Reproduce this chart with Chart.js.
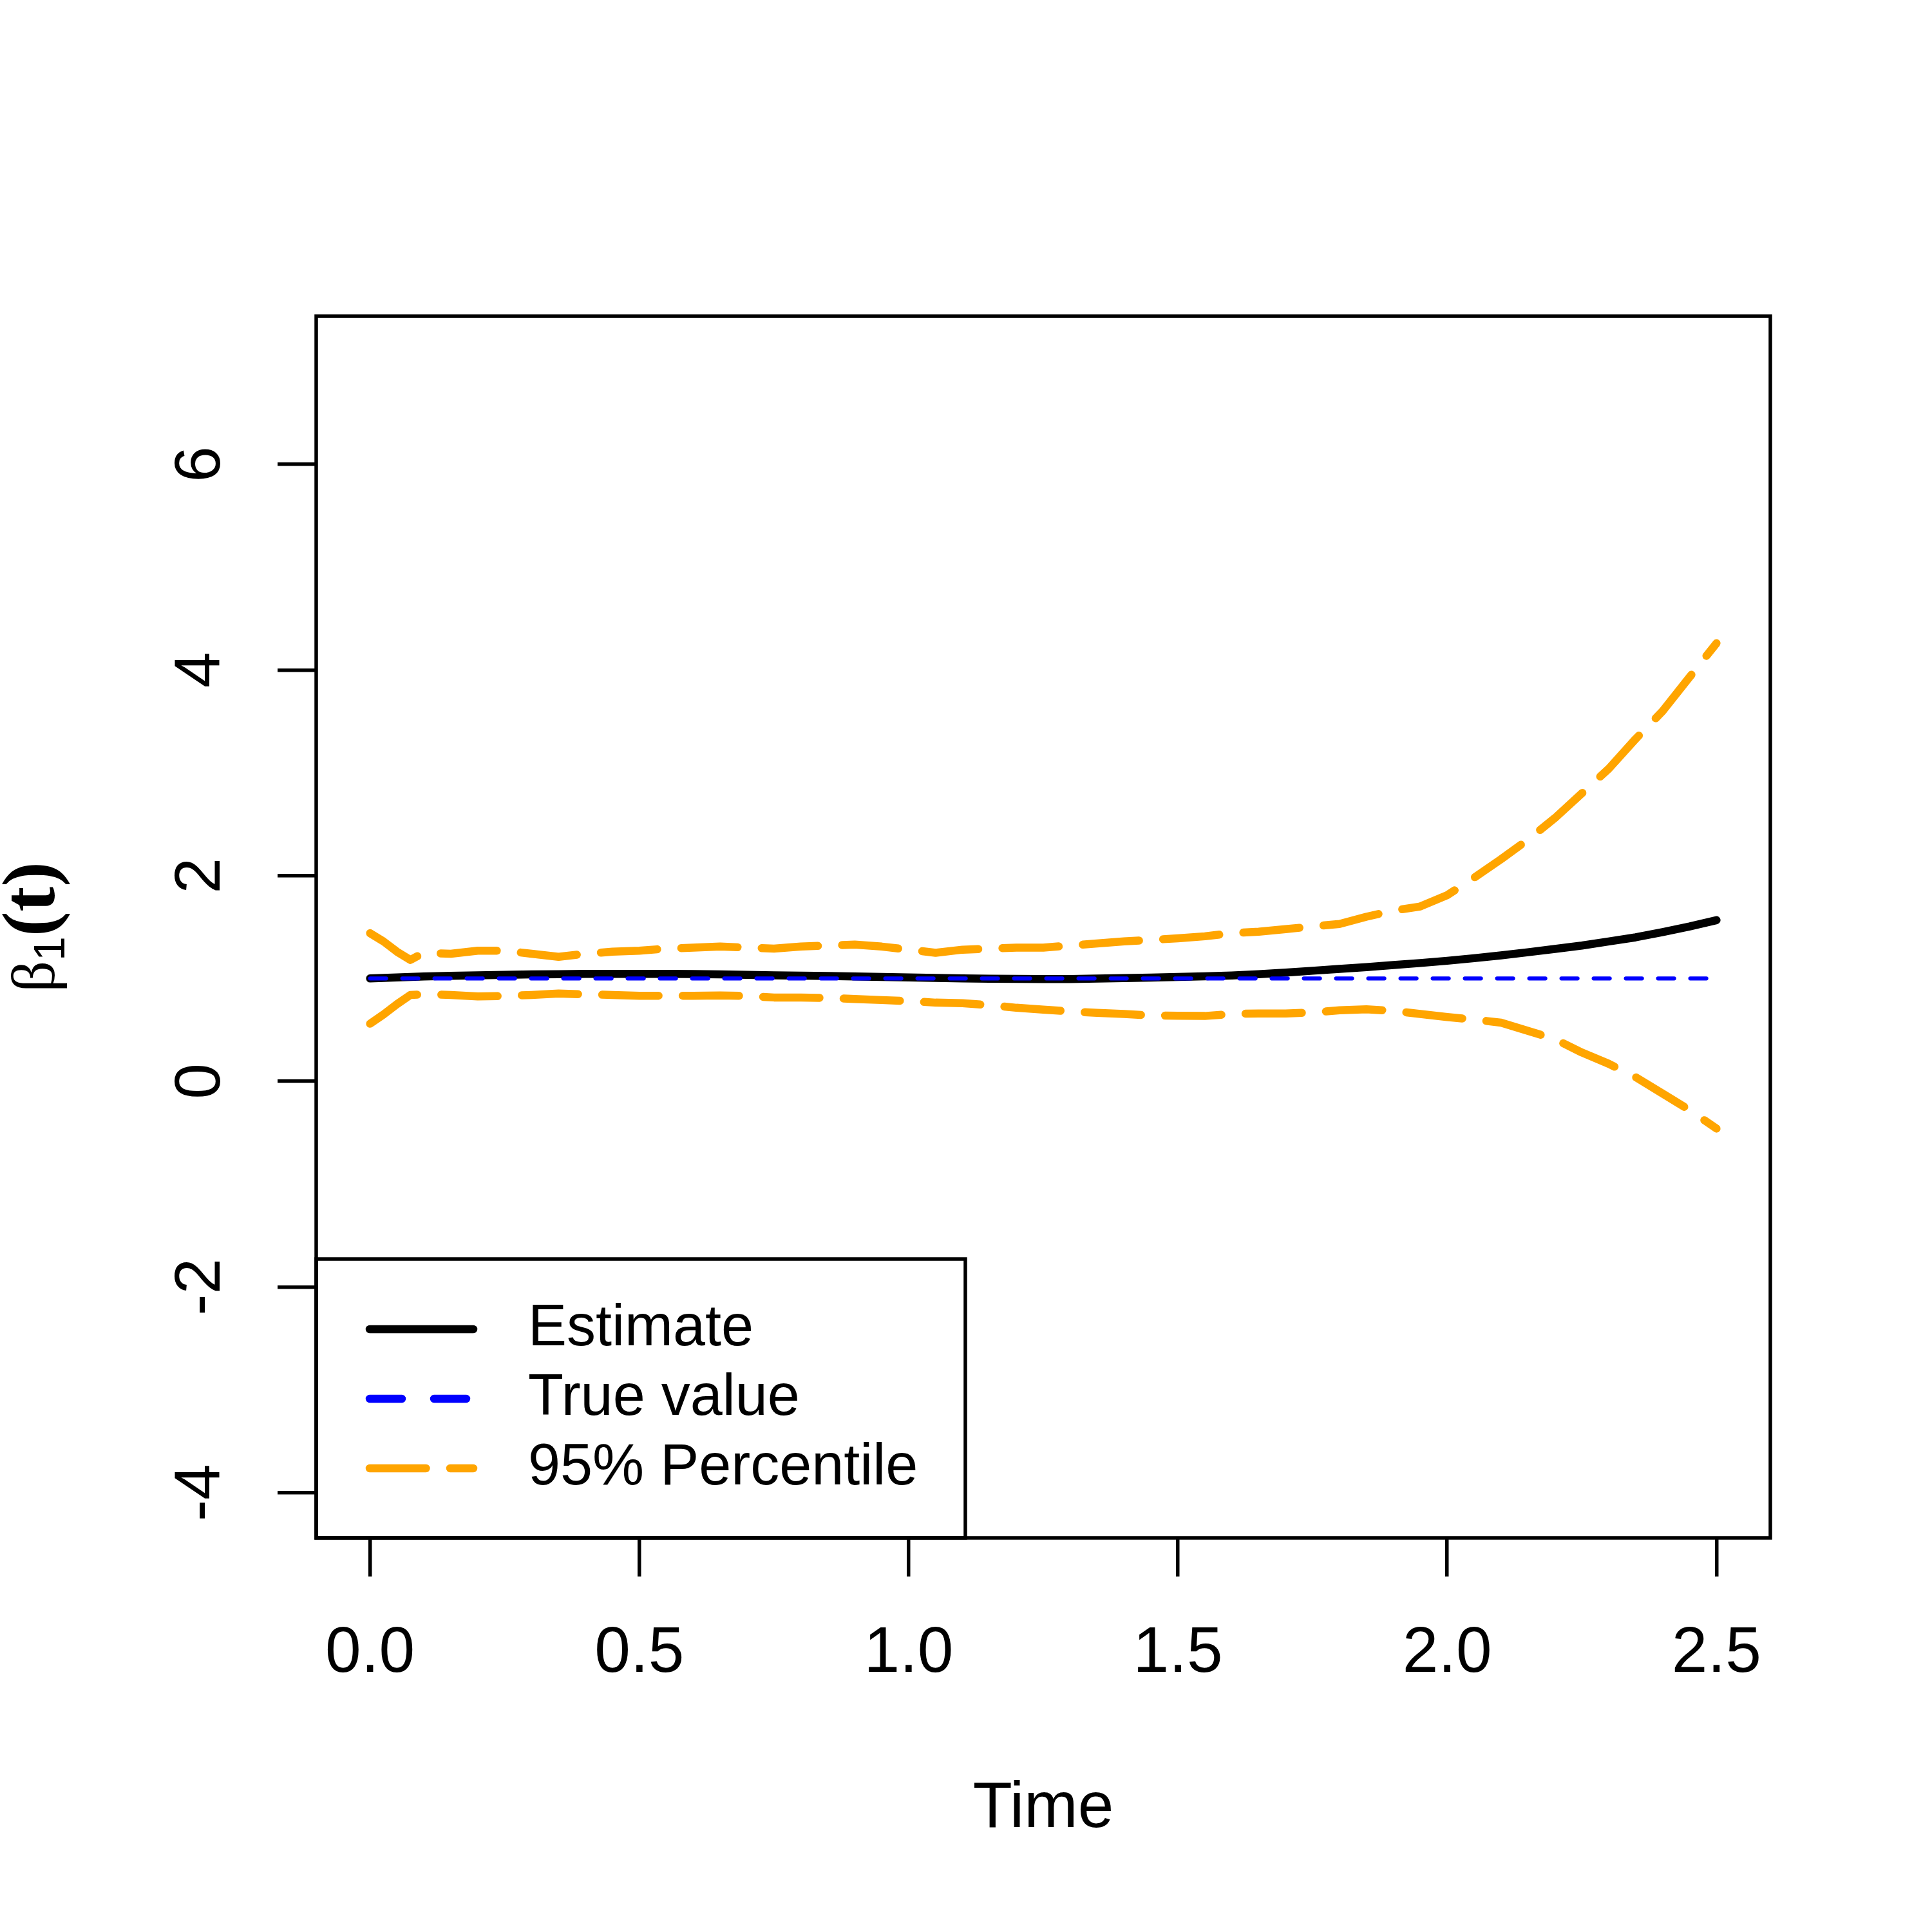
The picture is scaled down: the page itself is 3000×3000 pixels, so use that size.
<!DOCTYPE html>
<html>
<head>
<meta charset="utf-8">
<title>beta1(t) estimate</title>
<script src="https://cdn.jsdelivr.net/npm/chart.js@4.4.1/dist/chart.umd.min.js"></script>
<style>
  html, body { margin: 0; padding: 0; background: #fff; }
  canvas { display: block; }
</style>
</head>
<body>
<canvas id="betaChart" width="3000" height="3000"></canvas>
<script>
// values
const times = [0, 0.025, 0.05, 0.075, 0.1, 0.15, 0.2, 0.25, 0.3, 0.35,
  0.4, 0.45, 0.5, 0.55, 0.6, 0.65, 0.7, 0.75, 0.8, 0.85,
  0.9, 0.95, 1.0, 1.05, 1.1, 1.15, 1.2, 1.25, 1.3, 1.35,
  1.4, 1.45, 1.5, 1.55, 1.6, 1.65, 1.7, 1.75, 1.8, 1.85,
  1.9, 1.95, 2.0, 2.05, 2.1, 2.15, 2.2, 2.25, 2.3, 2.35,
  2.4, 2.45, 2.5];

const estimate = [1.000, 1.005, 1.010, 1.015, 1.020, 1.025, 1.030, 1.035, 1.040, 1.042,
  1.044, 1.045, 1.045, 1.045, 1.043, 1.040, 1.035, 1.030, 1.027, 1.024,
  1.020, 1.015, 1.010, 1.006, 1.000, 0.998, 0.996, 0.995, 0.995, 0.999,
  1.004, 1.009, 1.015, 1.021, 1.029, 1.042, 1.057, 1.075, 1.093, 1.110,
  1.130, 1.150, 1.172, 1.197, 1.225, 1.255, 1.287, 1.320, 1.360, 1.400,
  1.450, 1.505, 1.567];

const upper = [1.44, 1.36, 1.26, 1.18, 1.25, 1.24, 1.27, 1.27, 1.24, 1.21,
  1.24, 1.26, 1.27, 1.29, 1.30, 1.31, 1.30, 1.29, 1.31, 1.32,
  1.33, 1.31, 1.28, 1.25, 1.28, 1.29, 1.30, 1.30, 1.32, 1.34,
  1.36, 1.375, 1.39, 1.41, 1.44, 1.455, 1.48, 1.505, 1.53, 1.60,
  1.66, 1.70, 1.81, 1.98, 2.16, 2.35, 2.56, 2.80, 3.04, 3.33,
  3.60, 3.93, 4.26];

const lower = [0.56, 0.65, 0.75, 0.84, 0.845, 0.84, 0.825, 0.83, 0.84, 0.853,
  0.845, 0.84, 0.832, 0.832, 0.832, 0.835, 0.83, 0.815, 0.815, 0.81,
  0.80, 0.79, 0.78, 0.765, 0.76, 0.74, 0.715, 0.697, 0.68, 0.665,
  0.655, 0.64, 0.637, 0.635, 0.655, 0.66, 0.66, 0.67, 0.69, 0.70,
  0.685, 0.655, 0.625, 0.60, 0.57, 0.49, 0.41, 0.28, 0.17, 0.04,
  -0.12, -0.28, -0.46];

const trueTimes = [0, 2.5];
const trueValue = [1, 1];

const xTicks = [0, 0.5, 1, 1.5, 2, 2.5];
const yTicks = [-4, -2, 0, 2, 4, 6];
const legendLabels = ['Estimate', 'True value', '95% Percentile'];

const SANS = '"Liberation Sans", Arial, Helvetica, sans-serif';
const SERIF = '"Liberation Serif", "Times New Roman", serif';

function points(xs, ys) {
  return xs.map((x, i) => ({ x: x, y: ys[i] }));
}

// box round the plot, the legend and the y title
const framePlugin = {
  id: 'frame',
  afterDatasetsDraw(chart) {
    const ctx = chart.ctx;
    const a = chart.chartArea;
    ctx.save();
    ctx.strokeStyle = '#000';
    ctx.lineWidth = 5.5;
    ctx.strokeRect(a.left, a.top, a.right - a.left, a.bottom - a.top);

    // legend in the bottom-left corner
    const boxTop = 1955, boxRight = 1499;
    ctx.strokeRect(a.left, boxTop, boxRight - a.left, a.bottom - boxTop);
    const rows = [2064, 2172, 2280];
    const samples = [
      { color: '#000000', dash: [] },
      { color: '#0000ff', dash: [50, 50] },
      { color: '#ffa500', dash: [87.5, 37.5] }
    ];
    ctx.lineCap = 'round';
    ctx.font = '90px ' + SANS;
    ctx.textBaseline = 'middle';
    ctx.textAlign = 'left';
    legendLabels.forEach((label, i) => {
      ctx.beginPath();
      ctx.setLineDash(samples[i].dash);
      ctx.strokeStyle = samples[i].color;
      ctx.lineWidth = 12.5;
      ctx.moveTo(574, rows[i]);
      ctx.lineTo(735, rows[i]);
      ctx.stroke();
      ctx.fillStyle = '#000';
      ctx.fillText(label, 820, rows[i]);
    });
    ctx.setLineDash([]);
    ctx.restore();

    // y title: beta_1(t), read bottom to top
    ctx.save();
    ctx.fillStyle = '#000';
    ctx.textBaseline = 'alphabetic';
    ctx.textAlign = 'left';
    const parts = [
      { text: 'β', font: '96px ' + SERIF, shift: 0 },
      { text: '1', font: '68px ' + SANS, shift: 16 },
      { text: '(t)', font: 'bold 116px ' + SERIF, shift: 0 }
    ];
    let total = 0;
    parts.forEach(p => { ctx.font = p.font; p.w = ctx.measureText(p.text).width; total += p.w; });
    const midY = (a.top + a.bottom) / 2;
    ctx.translate(84, 0);
    ctx.rotate(-Math.PI / 2);
    let lx = -midY - total / 2;
    parts.forEach(p => {
      ctx.font = p.font;
      ctx.fillText(p.text, lx, p.shift);
      lx += p.w;
    });
    ctx.restore();
  }
};

const tickFont = { family: SANS, size: 100, lineHeight: 1.2 };
const tickGrid = { drawOnChartArea: false, drawTicks: true, tickLength: 60, color: '#000', lineWidth: 5.5 };

new Chart(document.getElementById('betaChart'), {
  type: 'line',
  data: {
    datasets: [
      {
        label: 'True value',
        data: points(trueTimes, trueValue),
        borderColor: '#0000ff',
        borderWidth: 6.25,
        borderDash: [25, 25]
      },
      {
        label: 'Estimate',
        data: points(times, estimate),
        borderColor: '#000000',
        borderWidth: 12.5
      },
      {
        label: '95% Percentile (upper)',
        data: points(times, upper),
        borderColor: '#ffa500',
        borderWidth: 12.5,
        borderDash: [87.5, 37.5]
      },
      {
        label: '95% Percentile (lower)',
        data: points(times, lower),
        borderColor: '#ffa500',
        borderWidth: 12.5,
        borderDash: [87.5, 37.5]
      }
    ]
  },
  options: {
    responsive: false,
    animation: false,
    devicePixelRatio: 1,
    layout: { padding: { top: 491, right: 251, bottom: 0, left: 0 } },
    elements: {
      point: { radius: 0, hoverRadius: 0 },
      line: { tension: 0, fill: false, borderCapStyle: 'round', borderJoinStyle: 'round' }
    },
    plugins: {
      legend: { display: false },
      tooltip: { enabled: false }
    },
    scales: {
      x: {
        type: 'linear',
        min: -0.1,
        max: 2.6,
        afterBuildTicks: s => { s.ticks = xTicks.map(v => ({ value: v })); },
        afterFit: s => { s.height = 612; },
        grid: tickGrid,
        border: { display: false },
        ticks: {
          color: '#000',
          font: tickFont,
          padding: 60,
          maxRotation: 0,
          autoSkip: false,
          callback: v => v.toFixed(1)
        },
        title: {
          display: true,
          text: 'Time',
          color: '#000',
          font: { family: SANS, size: 100, lineHeight: 1.2 },
          padding: { top: 0, bottom: 131 }
        }
      },
      y: {
        type: 'linear',
        min: -4.44,
        max: 7.44,
        afterBuildTicks: s => { s.ticks = yTicks.map(v => ({ value: v })); },
        afterFit: s => { s.width = 491; },
        grid: tickGrid,
        border: { display: false },
        ticks: {
          color: '#000',
          font: tickFont,
          padding: 73,
          minRotation: 90,
          maxRotation: 90,
          crossAlign: 'center',
          autoSkip: false,
          callback: v => String(v)
        }
      }
    }
  },
  plugins: [framePlugin]
});
</script>
</body>
</html>
